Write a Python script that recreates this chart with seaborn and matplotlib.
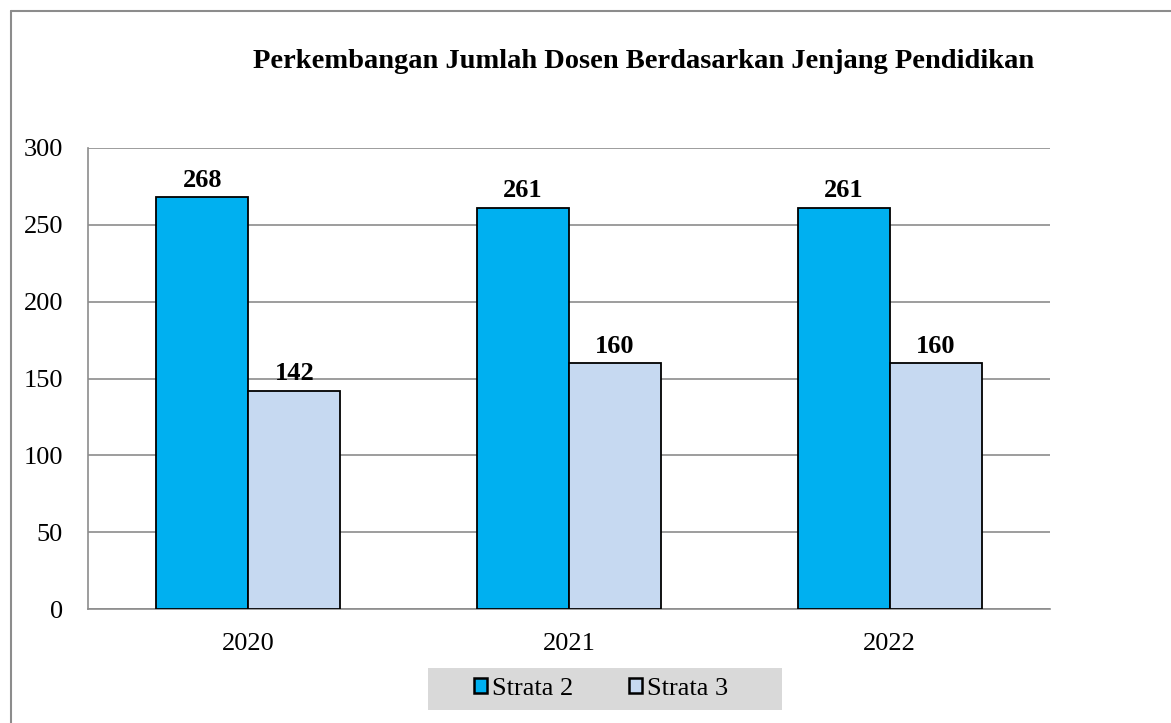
import pandas as pd
import matplotlib.pyplot as plt
import seaborn as sns
from matplotlib.lines import Line2D

# data
years = ["2020", "2021", "2022"]
strata2 = [268, 261, 261]
strata3 = [142, 160, 160]
series = ["Strata 2", "Strata 3"]
colors = ["#00b0f0", "#c6d9f1"]

df = pd.DataFrame({
    "Tahun": years * 2,
    "Jumlah": strata2 + strata3,
    "Jenjang": [series[0]] * 3 + [series[1]] * 3,
})

sns.set_style("white")
plt.rcParams["font.family"] = ["Liberation Serif", "DejaVu Serif"]
plt.rcParams["text.color"] = "black"
plt.rcParams["xtick.color"] = "black"
plt.rcParams["ytick.color"] = "black"

fig = plt.figure(figsize=(11.71, 7.23), dpi=100)
ax = fig.add_axes([88 / 1171, 1 - 609 / 723, (1050 - 88) / 1171, (609 - 148) / 723])

sns.barplot(data=df, x="Tahun", y="Jumlah", hue="Jenjang", palette=colors,
            saturation=1, width=0.573, edgecolor="black", linewidth=1.3, ax=ax,
            legend=False, zorder=3)

for c in ax.containers:
    ax.bar_label(c, fontsize=19, fontweight="bold", padding=4, color="black")

ax.set_ylim(0, 300)
ax.set_yticks(range(0, 301, 50))
ax.set_xlim(-0.5, 2.5)
ax.set_xlabel("")
ax.set_ylabel("")
ax.grid(axis="y", color="#8c8c8c", linewidth=1.2, zorder=0)
ax.set_axisbelow(True)

for s in ["top", "right"]:
    ax.spines[s].set_visible(False)
for s in ["left", "bottom"]:
    ax.spines[s].set_color("#8c8c8c")
    ax.spines[s].set_linewidth(1.2)

ax.tick_params(axis="y", length=6, color="#8c8c8c", width=1.2, labelsize=19, pad=12)
ax.tick_params(axis="x", which="major", length=0, labelsize=19, pad=17)
ax.set_xticks([-0.5, 0.5, 1.5, 2.5], minor=True)
ax.tick_params(axis="x", which="minor", length=7, color="#8c8c8c", width=1.2)

fig.text(644 / 1171, 1 - 62 / 723, "Perkembangan Jumlah Dosen Berdasarkan Jenjang Pendidikan",
         ha="center", va="center", fontsize=20.5, fontweight="bold")

# legend background box
fig.add_artist(plt.Rectangle((428 / 1171, 1 - 710 / 723), (782 - 428) / 1171, 42 / 723,
                             transform=fig.transFigure, facecolor="#d9d9d9",
                             edgecolor="none", zorder=0))
handles = [plt.Rectangle((0, 0), 1, 1, facecolor=col, edgecolor="black", linewidth=1.8)
           for col in colors]
fig.legend(handles, series, loc="center", bbox_to_anchor=(601 / 1171, 1 - 689 / 723),
           ncol=2, fontsize=19, frameon=False, handlelength=0.5, handleheight=0.5,
           handletextpad=0.2, columnspacing=2.1, borderpad=0.2)

# outer chart frame (top and left edges visible)
fig.add_artist(Line2D([11 / 1171, 11 / 1171], [0, 1 - 11 / 723], transform=fig.transFigure,
                      color="#8c8c8c", linewidth=1.5))
fig.add_artist(Line2D([11 / 1171, 1], [1 - 11 / 723, 1 - 11 / 723], transform=fig.transFigure,
                      color="#8c8c8c", linewidth=1.5))

fig.savefig("out.png", dpi=100)
